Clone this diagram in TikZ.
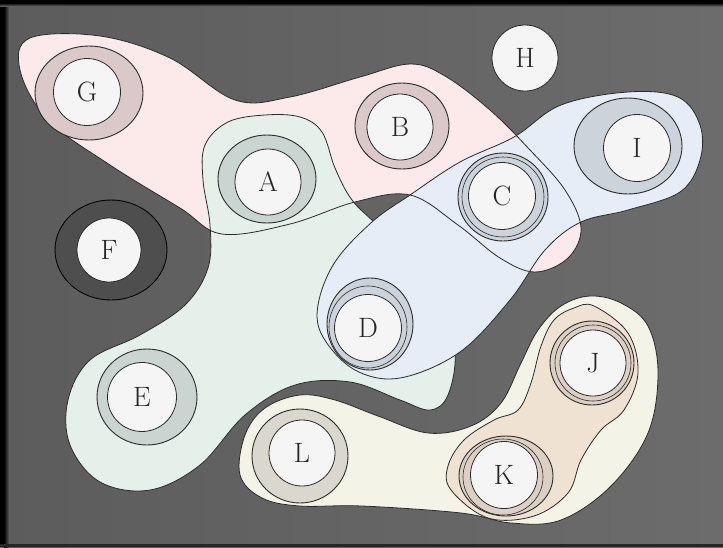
\documentclass[tikz,border=0pt]{standalone}
\definecolor{bgL}{HTML}{5C5C5C}
\definecolor{bgR}{HTML}{6C6C6C}
\definecolor{pinkF}{HTML}{FCE9E9}
\definecolor{greenF}{HTML}{E6F0EB}
\definecolor{blueF}{HTML}{E6EDF6}
\definecolor{yelF}{HTML}{F4F3E7}
\definecolor{orgF}{HTML}{F0E2D3}
\definecolor{pinkR}{HTML}{DBC9C9}
\definecolor{greenR}{HTML}{CAD4D0}
\definecolor{blueR}{HTML}{CDD3DA}
\definecolor{yelR}{HTML}{D9D7CE}
\definecolor{orgR}{HTML}{DCCFC3}
\definecolor{fR}{HTML}{4E4E4E}
\definecolor{whiteF}{HTML}{F5F5F5}
\definecolor{lineC}{HTML}{2A2A2A}
\begin{document}
\begin{tikzpicture}[x=1pt,y=-1pt,
  outl/.style={draw=lineC, line width=0.8pt},
  blob/.style={smooth cycle, tension=0.6},
  ring/.style={draw=lineC, line width=0.9pt, fill=#1},
  innerc/.style={circle, fill=whiteF, draw=lineC, line width=0.8pt, minimum size=#1, inner sep=0pt,
     font=\fontsize{28}{32}\selectfont, text=black!85}
]
\useasboundingbox (0,0) rectangle (723,547);
% background and frame
\shade[left color=bgL, right color=bgR] (0,0) rectangle (723,547);
\fill[black] (0,0) rectangle (4,547);
\shade[left color=black, right color=bgL] (4,0) rectangle (9,547);
\fill[black] (0,0) rectangle (723,3);
\shade[top color=black, bottom color=bgL] (0,3) rectangle (723,6);
\fill[black!85] (0,544) rectangle (723,547);

% blob paths
\def\pinkpath{plot[blob] coordinates {(30,38) (100,36) (170,58) (235,100) (290,97) (360,77) (410,64) (445,76) (490,110) (530,150) (565,190) (581,228) (568,258) (535,272) (500,258) (458,225) (410,195) (355,202) (290,224) (222,234) (180,208) (110,165) (48,120) (20,70)}}
\def\greenpath{plot[blob] coordinates {(205,145) (228,122) (265,115) (300,117) (322,132) (335,168) (352,200) (380,228) (440,290) (455,350) (448,395) (430,410) (400,400) (350,382) (295,385) (245,415) (200,465) (150,490) (100,482) (70,445) (68,400) (90,360) (140,335) (185,305) (208,268) (210,225) (203,180)}}
\def\bluepath{plot[blob] coordinates {(410,195) (460,162) (514,137) (561,105) (628,92) (678,97) (700,125) (700,160) (680,192) (628,210) (581,222) (545,250) (510,300) (460,352) (400,378) (355,370) (323,337) (318,305) (335,262) (372,222)}}
\def\yelpath{plot[blob] coordinates {(240,475) (245,435) (265,408) (300,395) (335,400) (378,416) (428,433) (471,426) (501,403) (521,363) (538,330) (561,306) (590,296) (621,303) (648,326) (658,373) (648,433) (611,486) (561,520) (511,523) (461,513) (362,506) (300,506) (262,498)}}
\def\orgpath{plot[blob] coordinates {(594,306) (628,333) (638,373) (624,410) (601,430) (581,460) (568,493) (534,516) (488,518) (451,490) (448,466) (464,440) (494,420) (518,410) (531,383) (541,346) (554,320) (574,308)}}

\fill[pinkF] \pinkpath;
\fill[greenF] \greenpath;
\draw[outl] \greenpath;
\fill[blueF] \bluepath;
\draw[outl] \bluepath;
\draw[outl] \pinkpath;
\fill[yelF] \yelpath;
\draw[outl] \yelpath;
\fill[orgF] \orgpath;
\draw[outl] \orgpath;

% rings
\draw[ring=pinkR] (89,93) ellipse [x radius=54pt, y radius=47pt];
\draw[ring=pinkR] (402,126) ellipse [x radius=47pt, y radius=43pt];
\draw[ring=greenR] (267,179) ellipse [x radius=49pt, y radius=44pt];
\draw[ring=greenR] (147,397) ellipse [x radius=50pt, y radius=48pt];
\draw[ring=fR, draw=black] (111,250) ellipse [x radius=56pt, y radius=50pt];
\draw[ring=blueR] (628,146) ellipse [x radius=54pt, y radius=48pt];
\draw[ring=blueR] (503,197) ellipse [x radius=45pt, y radius=44pt];
\draw[outl, line width=0.6pt] (503,197) ellipse [x radius=41pt, y radius=40pt];
\draw[ring=blueR] (370,324) ellipse [x radius=43pt, y radius=46pt];
\draw[outl, line width=0.6pt] (368,327) ellipse [x radius=39pt, y radius=41pt];
\draw[ring=yelR] (300,456) ellipse [x radius=48pt, y radius=47pt];
\draw[ring=orgR] (592,363) ellipse [x radius=42pt, y radius=42pt];
\draw[outl, line width=0.6pt] (593,363) ellipse [x radius=38pt, y radius=38pt];
\draw[ring=orgR] (506,476) ellipse [x radius=47pt, y radius=40pt];
\draw[outl, line width=0.6pt] (503,477) ellipse [x radius=40pt, y radius=38pt];

% labelled circles
\node[innerc=67pt] (G) at (87,92) {G};
\node[innerc=66pt] (A) at (268,182) {A};
\node[innerc=64pt] (F) at (109,250) {F};
\node[innerc=66pt] (H) at (525,58) {H};
\node[innerc=66pt] (B) at (400,127) {B};
\node[innerc=67pt] (I) at (637,148) {I};
\node[innerc=67pt] (C) at (502,196) {C};
\node[innerc=67pt] (D) at (368,328) {D};
\node[innerc=69pt] (E) at (142,397) {E};
\node[innerc=66pt] (L) at (302,453) {L};
\node[innerc=66pt] (J) at (593,363) {J};
\node[innerc=67pt] (K) at (504,475) {K};
\end{tikzpicture}
\end{document}
